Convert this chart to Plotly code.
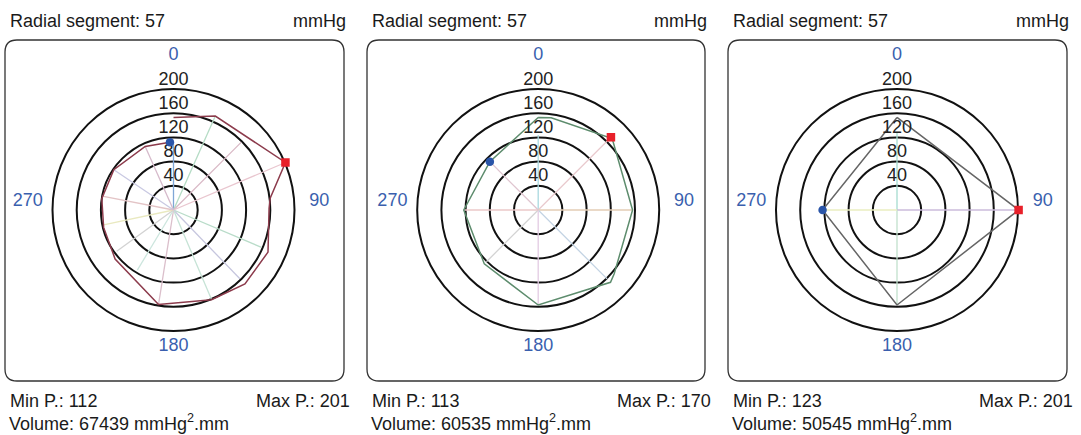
import plotly.graph_objects as go

W, H = 1081, 435

# ---------------- data ----------------
segments = [57, 57, 57]
min_p = [112, 113, 123]
max_p = [201, 170, 201]
volumes = [67439, 60535, 50545]

# pressure contour (angle in degrees, pressure mmHg)
p1_theta = [0, 24, 67, 83, 89, 114, 136, 157, 189, 230, 256, 279, 304, 336, 357]
p1_r = [153, 170, 201, 161, 158, 171, 170, 161, 158, 126, 119, 120, 119, 115, 112]
p2_theta = [0, 8, 46, 90, 130, 135, 180, 225, 270, 315, 360]
p2_r = [153, 154, 170, 156, 164, 169, 157, 126, 123, 113, 153]
p3_theta = [0, 90, 180, 270, 360]
p3_r = [153, 201, 157, 123, 153]

# sensor spokes (angle, length in mmHg)
s1_theta = [0, 24, 45, 67, 113, 136, 157, 189, 211, 234, 258, 281, 304, 336]
s1_len = [110, 170, 158, 201, 158, 158, 160, 158, 116, 116, 118, 120, 119, 115]
s2_theta = [0, 45, 90, 135, 180, 225, 270, 315]
s2_len = [124, 170, 156, 161, 157, 121, 123, 113]
s3_theta = [0, 90, 180, 270]
s3_len = [129, 201, 157, 123]

min_theta = [357, 315, 270]
max_theta = [67, 45, 90]

radial_ticks = [40, 80, 120, 160, 200]
angle_ticks = [0, 90, 180, 270]

# ---------------- styles ----------------
s1_colors = ['#7fa6d6', '#b5dcc5', '#d9b9c6', '#e9c6cf', '#b9dcc9', '#c6c6de', '#c6e3d6',
             '#dbbfcb', '#cde6de', '#d2d2d2', '#e9e9c0', '#e3c4c6', '#c9c9e2', '#d6bacb']
s2_colors = ['#a9d8df', '#e9c9cd', '#e3cdb5', '#c3d3e3', '#e3cbe3', '#d3d3d3', '#ebc9c9', '#dfc5cf']
s3_colors = ['#a5dccf', '#cbbbdb', '#c1e1cd', '#eaeec0']
line_colors = ['#8c3b4c', '#5d8c6d', '#666666']

FONT = 'Liberation Sans, Arial, Helvetica, sans-serif'
FS = 18
BLUE = '#3a5fae'

panels = [
    (p1_theta, p1_r, s1_theta, s1_len, s1_colors),
    (p2_theta, p2_r, s2_theta, s2_len, s2_colors),
    (p3_theta, p3_r, s3_theta, s3_len, s3_colors),
]

centers_x = [173.5, 538.2, 897.0]
center_y = 210.0
R_MAX = 250
R_PX = 121.0 * R_MAX / 200.0
LABEL_R = 241

frames = [(5, 344), (367, 705), (728, 1067)]
FRAME_TOP, FRAME_BOT = 40, 381

fig = go.Figure()
layout_polars = {}
shapes = []
annotations = []


def px_x(x):
    return x / W


def px_y(y):
    return 1 - y / H


for i, (pt, pr, st, sl, sc) in enumerate(panels):
    sub = 'polar' if i == 0 else 'polar%d' % (i + 1)
    # spokes
    for th, ln, col in zip(st, sl, sc):
        fig.add_trace(go.Scatterpolar(theta=[th, th], r=[0, ln], mode='lines',
                                      line=dict(color=col, width=1.3),
                                      subplot=sub, showlegend=False, hoverinfo='skip'))
    # contour
    fig.add_trace(go.Scatterpolar(theta=pt, r=pr, mode='lines',
                                  line=dict(color=line_colors[i], width=1.5),
                                  subplot=sub, showlegend=False))
    # radial tick labels
    fig.add_trace(go.Scatterpolar(theta=[0] * len(radial_ticks), r=radial_ticks,
                                  mode='text', text=[str(v) for v in radial_ticks],
                                  textposition='top center',
                                  textfont=dict(family=FONT, size=FS, color='#222222'),
                                  subplot=sub, showlegend=False, cliponaxis=False,
                                  hoverinfo='skip'))
    # angular tick labels
    fig.add_trace(go.Scatterpolar(theta=angle_ticks, r=[LABEL_R] * len(angle_ticks),
                                  mode='text', text=[str(a) for a in angle_ticks],
                                  textposition='top center',
                                  textfont=dict(family=FONT, size=FS, color=BLUE),
                                  subplot=sub, showlegend=False, cliponaxis=False,
                                  hoverinfo='skip'))
    # min / max markers
    fig.add_trace(go.Scatterpolar(theta=[min_theta[i]], r=[min_p[i]], mode='markers',
                                  marker=dict(color='#2a55a8', size=8.5, symbol='circle'),
                                  subplot=sub, showlegend=False, cliponaxis=False))
    fig.add_trace(go.Scatterpolar(theta=[max_theta[i]], r=[max_p[i]], mode='markers',
                                  marker=dict(color='#e8202a', size=8.5, symbol='square'),
                                  subplot=sub, showlegend=False, cliponaxis=False))

    cx = centers_x[i]
    layout_polars[sub] = dict(
        domain=dict(x=[(cx - R_PX) / W, (cx + R_PX) / W],
                    y=[(H - center_y - R_PX) / H, (H - center_y + R_PX) / H]),
        bgcolor='rgba(0,0,0,0)',
        angularaxis=dict(rotation=90, direction='clockwise', showgrid=False,
                         showticklabels=False, showline=False, ticks=''),
        radialaxis=dict(range=[0, R_MAX], tickvals=radial_ticks, showticklabels=False,
                        showline=False, ticks='', gridcolor='#111111', gridwidth=1.5),
    )

    # rounded frame
    x0, x1 = frames[i]
    y0, y1 = FRAME_TOP, FRAME_BOT
    r = 12
    pts = [
        ('M', x0 + r, y0), ('L', x1 - r, y0), ('Q', x1, y0, x1, y0 + r),
        ('L', x1, y1 - r), ('Q', x1, y1, x1 - r, y1), ('L', x0 + r, y1),
        ('Q', x0, y1, x0, y1 - r), ('L', x0, y0 + r), ('Q', x0, y0, x0 + r, y0),
    ]
    path = ''
    for p in pts:
        cmd = p[0]
        coords = p[1:]
        segs = []
        for k in range(0, len(coords), 2):
            segs.append('%.6f,%.6f' % (px_x(coords[k]), px_y(coords[k + 1])))
        path += cmd + ' ' + ' '.join(segs) + ' '
    path += 'Z'
    shapes.append(dict(type='path', path=path, xref='paper', yref='paper',
                       line=dict(color='#333333', width=1.3)))

    # texts
    tf = dict(family=FONT, size=FS, color='#1a1a1a')
    left = x0 + 3
    right = x1 + 4
    annotations += [
        dict(text='Radial segment: %d' % segments[i], x=px_x(left), y=px_y(21),
             xanchor='left', yanchor='middle', showarrow=False, font=tf,
             xref='paper', yref='paper'),
        dict(text='mmHg', x=px_x(right), y=px_y(21), xanchor='right', yanchor='middle',
             showarrow=False, font=tf, xref='paper', yref='paper'),
        dict(text='Min P.: %d' % min_p[i], x=px_x(left), y=px_y(401), xanchor='left',
             yanchor='middle', showarrow=False, font=tf, xref='paper', yref='paper'),
        dict(text='Max P.: %d' % max_p[i], x=px_x(right + 4), y=px_y(401), xanchor='right',
             yanchor='middle', showarrow=False, font=tf, xref='paper', yref='paper'),
        dict(text='Volume: %d mmHg<sup>2</sup>.mm' % volumes[i], x=px_x(left), y=0,
             xanchor='left', yanchor='bottom', showarrow=False, font=tf,
             borderpad=0, xref='paper', yref='paper'),
    ]

fig.update_layout(
    width=W, height=H,
    margin=dict(l=0, r=0, t=0, b=0),
    paper_bgcolor='white', plot_bgcolor='white',
    showlegend=False,
    shapes=shapes,
    annotations=annotations,
    **layout_polars,
)

fig.write_html('out.html', config={'displayModeBar': False})
